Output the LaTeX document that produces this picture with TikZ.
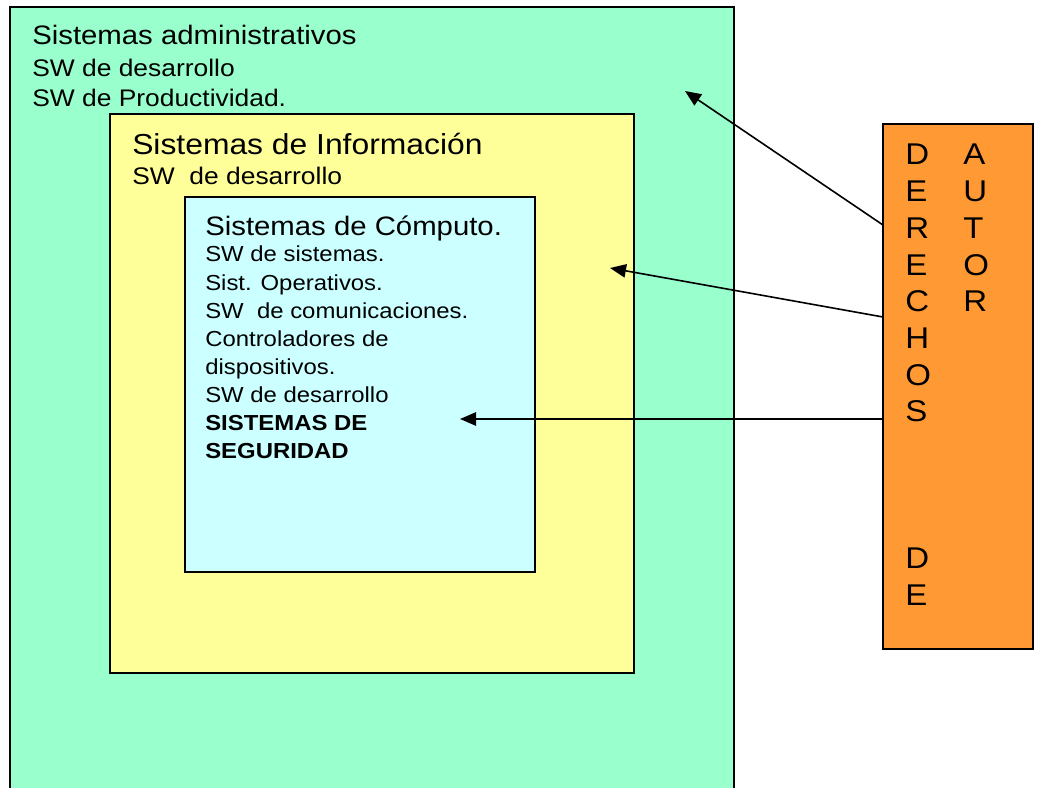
\documentclass[tikz,border=0pt]{standalone}
\usepackage{fontspec}
\setmainfont{Liberation Sans}[FakeStretch=1.1]
\usetikzlibrary{arrows.meta}

\definecolor{verde}{HTML}{99FFCC}
\definecolor{amarillo}{HTML}{FFFF99}
\definecolor{celeste}{HTML}{CCFFFF}
\definecolor{naranja}{HTML}{FF9933}

\begin{document}
\begin{tikzpicture}[x=0.75pt,y=-0.75pt,
    caja/.style={draw=black,line width=1.5pt},
    flecha/.style={line width=1.2pt,-{Triangle[length=12pt,width=10pt]}},
    txt/.style={anchor=base west,inner sep=0pt}]
    \useasboundingbox (0,0) rectangle (1039,788);

    % Sistemas administrativos
    \draw[caja,fill=verde] (10,7) rectangle (734,800);
    \node[txt,font=\fontsize{20}{24}\selectfont] (admin) at (32,45) {Sistemas administrativos};
    \node[txt,font=\fontsize{18}{22}\selectfont] (admin1) at (32,77) {SW de desarrollo};
    \node[txt,font=\fontsize{18}{22}\selectfont] (admin2) at (32,107) {SW de Productividad.};

    % Sistemas de informacion
    \draw[caja,fill=amarillo] (110,114) rectangle (634,673);
    \node[txt,font=\fontsize{21.7}{26}\selectfont] (info) at (132,155) {Sistemas de Información};
    \node[txt,font=\fontsize{18}{22}\selectfont] (info1) at (132,185) {SW~~de desarrollo};

    % Sistemas de computo
    \draw[caja,fill=celeste] (185,197) rectangle (535,572);
    \node[txt,font=\fontsize{20}{24}\selectfont] (comp) at (205,235) {Sistemas de Cómputo.};
    \foreach \linea [count=\i from 0] in {SW de sistemas.,Sist. Operativos.,SW~~de comunicaciones.,
        Controladores de,dispositivos.,SW de desarrollo,\bfseries SISTEMAS DE,\bfseries SEGURIDAD}
        \node[txt,font=\fontsize{16.3}{19}\selectfont] (comp\i) at (205,262+28.1*\i) {\linea};

    % Derechos de autor
    \draw[caja,fill=naranja] (883,124) rectangle (1033,649);
    \foreach \letra/\k in {D/0,E/1,R/2,E/3,C/4,H/5,O/6,S/7,D/11,E/12}
        \node[txt,font=\fontsize{22.5}{27}\selectfont] (der\k) at (905,165+36.67*\k) {\letra};
    \foreach \letra/\k in {A/0,U/1,T/2,O/3,R/4}
        \node[txt,font=\fontsize{22.5}{27}\selectfont] (aut\k) at (963,165+36.67*\k) {\letra};

    % flechas
    \coordinate (s1) at (883,225);
    \coordinate (s2) at (883,317);
    \coordinate (s3) at (883,419);
    \coordinate (t1) at (685,91);
    \coordinate (t2) at (610,268);
    \coordinate (t3) at (460,419);
    \draw[flecha] (s1) -- (t1);
    \draw[flecha] (s2) -- (t2);
    \draw[flecha] (s3) -- (t3);
\end{tikzpicture}
\end{document}
